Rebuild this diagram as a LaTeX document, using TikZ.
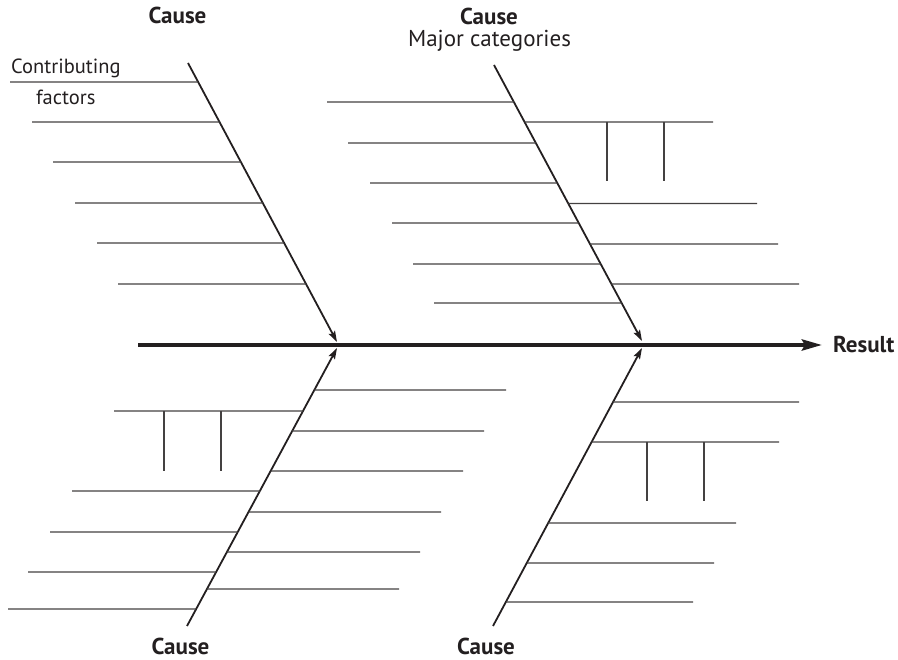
\documentclass[tikz,border=0pt]{standalone}
\usepackage{fontspec}
\setmainfont{PT Sans}
\usetikzlibrary{arrows.meta,calc}
\definecolor{ink}{HTML}{231F20}
\begin{document}
\begin{tikzpicture}[x=1pt,y=-1pt,
  spine/.style={line width=4pt, draw=ink, -{Stealth[length=20pt,width=11pt,inset=3pt]}},
  bone/.style={line width=1.8pt, draw=ink, -{Stealth[length=11pt,width=7pt,inset=2pt]}},
  twig/.style={line width=1.3pt, draw=ink!85},
  tick/.style={line width=1.3pt, draw=ink!85},
  causelabel/.style={font=\fontsize{23}{25}\selectfont\bfseries, text=ink, inner sep=0pt},
  note/.style={font=\fontsize{20.5}{24}\selectfont, text=ink, inner sep=0pt}]
\useasboundingbox (0,0) rectangle (898,660);

% spine and result
\coordinate (spineStart) at (138,345);
\node[causelabel, anchor=base west] (result) at (833,353) {Result};
\coordinate (spineEnd) at (822,345);
\draw[spine] (spineStart) -- (spineEnd);

% labels
\node[causelabel, anchor=base] (causeTL) at (177.5,24) {Cause};
\node[causelabel, anchor=base] (causeTM) at (489,25) {Cause};
\node[note, anchor=base, font=\fontsize{23}{25}\selectfont] (major) at (489.5,47) {Major categories};
\node[causelabel, anchor=base] (causeBL) at (180.5,654) {Cause};
\node[causelabel, anchor=base] (causeBR) at (486,654) {Cause};
\node[note, anchor=base west] (contrib) at (11,74) {Contributing};
\node[note, anchor=base west] (factors) at (36,105) {factors};

% main bones
\coordinate (tlTop) at (188,63);  \coordinate (tlTip) at (337,342);
\coordinate (tmTop) at (494,65);  \coordinate (tmTip) at (642,341);
\coordinate (blBot) at (187,626); \coordinate (blTip) at (337,348);
\coordinate (brBot) at (493,626); \coordinate (brTip) at (642,348);
\draw[bone] (tlTop) -- (tlTip);
\draw[bone] (tmTop) -- (tmTip);
\draw[bone] (blBot) -- (blTip);
\draw[bone] (brBot) -- (brTip);

% top-left branches
\foreach \y/\x in {82/10,122/32,162/53,203/75,243/97,284/118}
  \draw[twig] (\x,\y) -- ($(tlTop)!{(\y-63)/279}!(tlTip)$);

% top-middle branches
\foreach \y/\x in {102/327,143/348,183/370,223/392,264/413,303/434}
  \draw[twig] (\x,\y) -- ($(tmTop)!{(\y-65)/276}!(tmTip)$);
\foreach \y/\x in {122/713,203.5/757,244/778,284/799}
  \draw[twig] ($(tmTop)!{(\y-65)/276}!(tmTip)$) -- (\x,\y);
\draw[tick] (607,122) -- (607,181);
\draw[tick] (664,122) -- (664,181);

% bottom-left branches
\foreach \y/\x in {390/506,431/484,471/463,512/441,552/420,589/399}
  \draw[twig] ($(blBot)!{(626-\y)/278}!(blTip)$) -- (\x,\y);
\foreach \y/\x in {411/114,491/72,532/50,572/28,609/8}
  \draw[twig] (\x,\y) -- ($(blBot)!{(626-\y)/278}!(blTip)$);
\draw[tick] (164,411) -- (164,471);
\draw[tick] (221,411) -- (221,471);

% bottom-right branches
\foreach \y/\x in {402/799,442/779,523/736,563/714,602/693}
  \draw[twig] ($(brBot)!{(626-\y)/278}!(brTip)$) -- (\x,\y);
\draw[tick] (647,442) -- (647,501);
\draw[tick] (704,442) -- (704,501);
\end{tikzpicture}
\end{document}
